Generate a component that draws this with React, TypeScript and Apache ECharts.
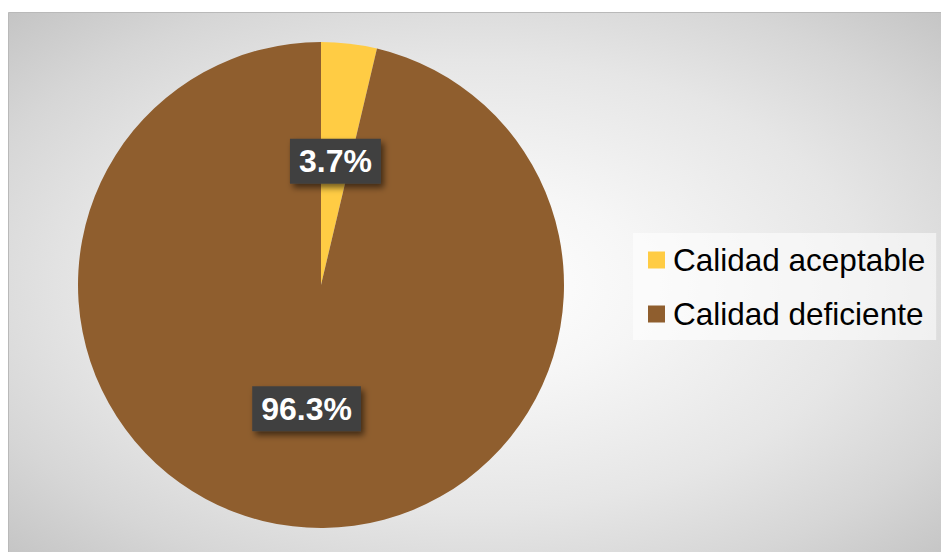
import React, { useEffect, useRef } from "react";
import * as echarts from "echarts";

const categories = ["Calidad aceptable", "Calidad deficiente"];
const percentages = [3.7, 96.3];
const sliceColors = ["#FFCC44", "#8F5E2E"];

export default function App() {
  const ref = useRef<HTMLDivElement>(null);
  useEffect(() => {
    if (!ref.current) return;
    const chart = echarts.init(ref.current, null, { renderer: "svg" });
    const font = "'Liberation Sans', Arial, sans-serif";
    chart.setOption({
      animation: false,
      backgroundColor: "#ffffff",
      graphic: [
        {
          type: "rect",
          z: -10,
          silent: true,
          shape: { x: 8.5, y: 12.5, width: 940, height: 545 },
          style: {
            fill: new echarts.graphic.RadialGradient(0.5, 0.5, 0.71, [
              { offset: 0, color: "#ffffff" },
              { offset: 0.25, color: "#f6f6f6" },
              { offset: 0.58, color: "#e6e6e6" },
              { offset: 0.8, color: "#d6d6d6" },
              { offset: 1, color: "#c4c4c4" },
            ]),
            stroke: "#b9b9b9",
            lineWidth: 1,
          },
        },
      ],
      legend: {
        orient: "vertical",
        left: 633,
        top: 233,
        padding: [11, 11, 10, 15],
        backgroundColor: "rgba(255,255,255,0.55)",
        itemWidth: 17,
        itemHeight: 17,
        itemGap: 22,
        icon: "rect",
        data: categories,
        textStyle: {
          fontFamily: font,
          fontSize: 31.5,
          lineHeight: 30,
          color: "#000000",
          padding: [0, 0, 0, 3],
        },
      },
      series: [
        {
          type: "pie",
          center: [321, 285],
          radius: 243,
          startAngle: 90,
          clockwise: true,
          silent: true,
          data: categories.map((name, i) => ({
            name,
            value: percentages[i],
            itemStyle: { color: sliceColors[i] },
          })),
          label: {
            show: true,
            position: "inside",
            formatter: "{c}%",
            color: "#ffffff",
            fontFamily: font,
            fontWeight: "bold",
            fontSize: 32,
            lineHeight: 33,
            backgroundColor: "#414141",
            padding: [6, 9],
            shadowColor: "rgba(0,0,0,0.55)",
            shadowBlur: 6,
            shadowOffsetX: 3,
            shadowOffsetY: 4,
          },
          labelLine: { show: false },
        },
      ],
    });
    return () => chart.dispose();
  }, []);
  return (
    <div
      ref={ref}
      style={{ position: "fixed", left: 0, top: 0, width: 941, height: 552 }}
    />
  );
}
